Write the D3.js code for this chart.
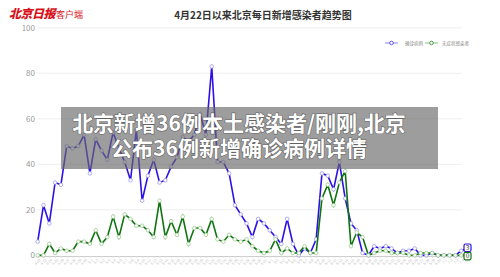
<!DOCTYPE html>
<html>
<head>
<meta charset="utf-8">
<script src="https://cdn.jsdelivr.net/npm/d3@7"></script>
<style>
  html, body { margin: 0; padding: 0; background: #fff; }
  svg { display: block; font-family: "Noto Sans CJK SC", "Noto Sans", sans-serif; }
</style>
</head>
<body>
<svg width="500" height="277"></svg>
<script>
// days since 4/22
const startDate = new Date(2022, 3, 22);
const confirmed = [6, 22, 14, 32, 31, 48, 47, 48, 53, 36, 51, 46, 42, 54, 47, 41, 33, 55, 24, 35,
  42, 32, 33, 39, 43, 52, 50, 53, 62, 53, 83, 41, 41, 36, 22, 18, 14, 8, 16, 14,
  11, 8, 5, 16, 5, 0, 3, 1, 7, 36, 35, 29, 41, 25, 14, 11, 1, 0, 4, 3,
  4, 3, 1, 2, 2, 3, 0, 0, 1, 0, 0, 0, 0, 2, 3];
const asymptomatic = [0, 0, 5, 1, 3, 2, 2, 6, 6, 5, 11, 5, 8, 17, 8, 18, 16, 13, 13, 11,
  8, 24, 8, 15, 9, 17, 5, 12, 12, 9, 16, 7, 6, 9, 7, 6, 7, 4, 2, 1,
  2, 7, 1, 3, 1, 1, 4, 1, 1, 25, 31, 22, 32, 37, 4, 10, 8, 0, 1, 2,
  2, 1, 1, 1, 0, 0, 1, 1, 1, 0, 0, 0, 0, 0, 0];
const yTicks = [0, 20, 40, 60, 80, 100];
const seriesNames = ["确诊病例", "无症状感染者"];
const dates = confirmed.map((d, i) => {
  const t = new Date(startDate);
  t.setDate(t.getDate() + i);
  return (t.getMonth() + 1) + "-" + t.getDate();
});

const svg = d3.select("svg");

const x = d3.scaleLinear().domain([0, dates.length - 1]).range([37.7, 467]);
const y = d3.scaleLinear().domain([0, 100]).range([255.3, 27.8]);

// logo
const logo = svg.append("text").attr("x", 9).attr("y", 18).attr("fill", "#d8141c");
logo.append("tspan").text("北京日报")
  .attr("font-family", "'Noto Sans CJK SC'").attr("font-weight", 900)
  .attr("font-style", "italic").attr("font-size", 12).attr("letter-spacing", -0.5);
logo.append("tspan").text("客户端").attr("font-size", 9).attr("dx", 1);

// title
svg.append("text").attr("x", 263).attr("y", 19).attr("text-anchor", "middle")
  .attr("font-size", 10).attr("font-weight", 700).attr("fill", "#333")
  .text("4月22日以来北京每日新增感染者趋势图");

// grid + y labels
svg.append("g").selectAll("line").data(yTicks.slice(1)).enter().append("line")
  .attr("x1", 37).attr("x2", 462)
  .attr("y1", (d) => y(d)).attr("y2", (d) => y(d))
  .attr("stroke", "#eee").attr("stroke-width", 1);
svg.append("g").selectAll("text").data(yTicks).enter().append("text")
  .attr("x", 35).attr("y", (d) => y(d)).attr("dy", "0.35em")
  .attr("text-anchor", "end").attr("font-size", 8).attr("fill", "#999")
  .text((d) => d);

// x axis
const xAxis = d3.axisBottom(x).tickValues(d3.range(dates.length))
  .tickFormat((i) => dates[i]).tickSize(2);
const gx = svg.append("g").attr("transform", "translate(0,256)").call(xAxis);
gx.select(".domain").attr("stroke", "#ccc");
gx.selectAll(".tick line").attr("stroke", "#ddd");
gx.selectAll(".tick text")
  .attr("font-size", 3.6).attr("fill", "#bbb")
  .attr("text-anchor", "end").attr("dy", 0).attr("y", 4)
  .attr("transform", "rotate(-45) translate(-1,1)");

// series
const series = [
  { name: seriesNames[0], values: confirmed, color: "#2c10e8", marker: "#9a9ae8" },
  { name: seriesNames[1], values: asymptomatic, color: "#0f740f", marker: "#9ccc90" },
];
const line = d3.line().x((d, i) => x(i)).y((d) => y(d));
series.forEach((s) => {
  svg.append("path").datum(s.values).attr("d", line)
    .attr("fill", "none").attr("stroke", s.color).attr("stroke-width", 1.6);
  svg.append("g").selectAll("circle").data(s.values).enter().append("circle")
    .attr("cx", (d, i) => x(i)).attr("cy", (d) => y(d)).attr("r", 1.8)
    .attr("fill", "#fff").attr("stroke", s.marker).attr("stroke-width", 0.8);
});

// end labels
const last = dates.length - 1;
[[series[0], 244], [series[1], 252.3]].forEach(([s, top]) => {
  svg.append("rect").attr("x", x(last) - 3).attr("y", top).attr("width", 7).attr("height", 7.5)
    .attr("rx", 1.5).attr("fill", "#fff").attr("stroke", s.color).attr("stroke-width", 1.2);
  svg.append("text").attr("x", x(last) + 0.5).attr("y", top + 3.9).attr("dy", "0.33em")
    .attr("text-anchor", "middle").attr("font-size", 6.5).attr("fill", "#333")
    .text(s.values[last]);
});

// legend
const legend = svg.append("g").attr("transform", "translate(385,43)");
[[0, 0, 20], [1, 40, 57]].forEach(([k, lx, tx]) => {
  const s = series[k];
  legend.append("line").attr("x1", lx).attr("x2", lx + 13).attr("y1", 0).attr("y2", 0)
    .attr("stroke", s.marker).attr("stroke-width", 1.2);
  legend.append("circle").attr("cx", lx + 6.5).attr("cy", 0).attr("r", 1.8)
    .attr("fill", "#fff").attr("stroke", s.color).attr("stroke-width", 0.7);
  legend.append("text").attr("x", tx).attr("y", 0).attr("dy", "0.35em")
    .attr("font-size", 4.5).attr("fill", "#888").text(s.name);
});

// headline overlay
svg.append("rect").attr("x", 61).attr("y", 107).attr("width", 377).attr("height", 62)
  .attr("fill", "rgba(105,105,105,0.65)");
const headline = ["北京新增36例本土感染者/刚刚,北京", "公布36例新增确诊病例详情"];
svg.append("g").selectAll("text").data(headline).enter().append("text")
  .attr("x", 239).attr("y", (d, i) => 123.5 + i * 25.5).attr("dy", "0.35em")
  .attr("text-anchor", "middle").attr("font-size", 21).attr("font-weight", 700)
  .attr("fill", "#fff").attr("stroke", "rgba(60,60,60,0.6)").attr("stroke-width", 1.2)
  .attr("paint-order", "stroke")
  .text((d) => d);
</script>
</body>
</html>
